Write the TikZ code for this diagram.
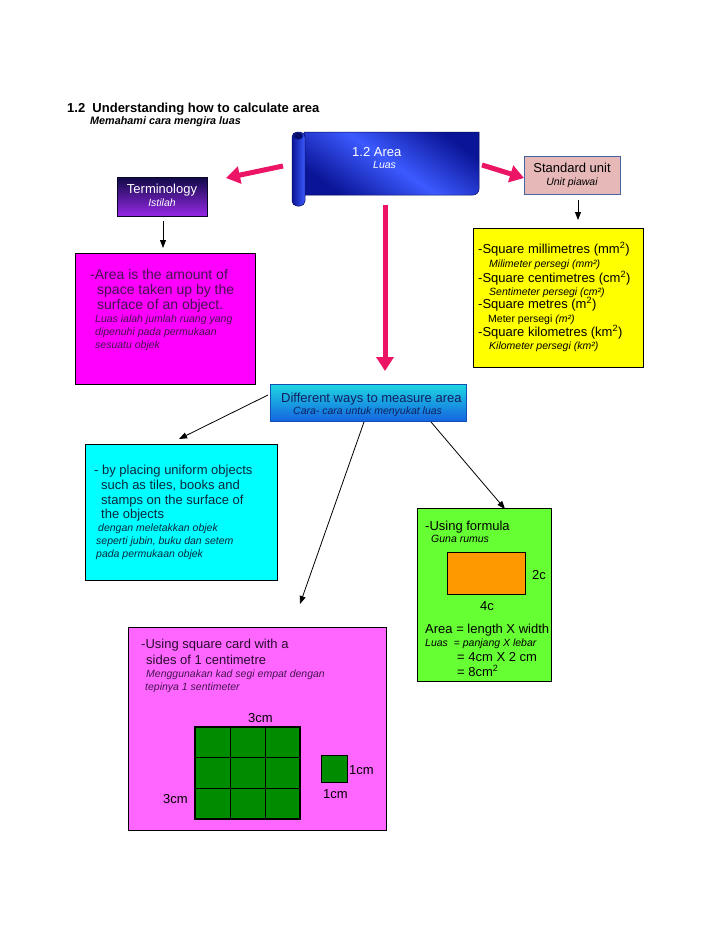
\documentclass[tikz,border=0pt]{standalone}
\usepackage{fontspec}
\setmainfont{Liberation Sans}
\usetikzlibrary{arrows.meta,shadings}
\definecolor{pinkarrow}{RGB}{236,20,100}
\definecolor{magbox}{RGB}{255,0,255}
\definecolor{violetbox}{RGB}{255,102,255}
\definecolor{cyanbox}{RGB}{0,255,255}
\definecolor{greenbox}{RGB}{102,255,51}
\definecolor{gridgreen}{RGB}{0,140,0}
\definecolor{orangebox}{RGB}{255,153,0}
\definecolor{yellowbox}{RGB}{255,255,0}
\definecolor{stdfill}{RGB}{230,184,183}
\definecolor{stdborder}{RGB}{70,100,160}
\definecolor{navytext}{RGB}{16,32,96}
\definecolor{scrolldark}{RGB}{10,20,150}
\definecolor{scrolllight}{RGB}{60,90,255}
\definecolor{termtop}{RGB}{15,10,70}
\definecolor{termmid}{RGB}{40,30,200}
\definecolor{termbot}{RGB}{150,40,230}
\definecolor{difftop}{RGB}{30,215,225}
\definecolor{diffbot}{RGB}{20,100,225}
\definecolor{magtext}{RGB}{70,20,80}
\definecolor{cyantext}{RGB}{10,40,60}
\tikzset{
  box/.style={draw=black, line width=0.8pt, anchor=north west, inner sep=0pt},
  main/.style={anchor=base west, inner sep=0pt, font=\fontsize{13}{15}\selectfont},
  bigmain/.style={anchor=base west, inner sep=0pt, font=\fontsize{14}{16}\selectfont},
  ital/.style={anchor=base west, inner sep=0pt, font=\fontsize{10.5}{12}\selectfont\itshape},
  bigarrow/.style={pinkarrow, line width=5pt, -{Triangle[length=14pt,width=17pt]}},
  thinarrow/.style={black, line width=0.8pt, -{Triangle[length=8pt,width=6pt]}},
}
\begin{document}
\begin{tikzpicture}[x=1pt,y=-1pt]
\useasboundingbox (0,0) rectangle (728,943);
\fill[white] (0,0) rectangle (728,943);

% title
\node[anchor=base west, inner sep=0pt, font=\fontsize{13}{15}\selectfont\bfseries] (title) at (67,112) {1.2\ \ Understanding how to calculate area};
\node[anchor=base west, inner sep=0pt, font=\fontsize{10.8}{12}\selectfont\bfseries\itshape] (subtitle) at (90,124) {Memahami cara mengira luas};

% scroll
\shade[top color=scrolldark, bottom color=scrolldark, middle color=scrolllight, shading angle=-35, draw=scrolldark!60!black, line width=0.5pt]
  (304,132) -- (479,132) -- (479,189) arc[start angle=0, end angle=90, radius=6] -- (304,195) -- cycle;
\shade[left color=scrolldark, right color=scrolllight, draw=scrolldark!60!black, line width=0.5pt, rounded corners=5pt]
  (292,132) rectangle (305,206);
\fill[scrolldark!70!black] (298.5,136) ellipse (4.5pt and 3.5pt);
\node[inner sep=0pt] (scroll) at (386,163) {};
\node[anchor=base west, inner sep=0pt, text=white, font=\fontsize{13}{15}\selectfont] (areatxt) at (352,156) {1.2 Area};
\node[anchor=base west, inner sep=0pt, text=white, font=\fontsize{10.5}{12}\selectfont\itshape] (luastxt) at (373,168) {Luas};

% terminology
\shade[top color=termtop, middle color=termmid, bottom color=termbot, draw=termtop!60!black, line width=0.5pt] (117,177) rectangle (207,216);
\node[inner sep=0pt, minimum width=90pt, minimum height=39pt, anchor=north west] (term) at (117,177) {};
\node[anchor=base, inner sep=0pt, text=white, font=\fontsize{13}{15}\selectfont] at (162,193) {Terminology};
\node[anchor=base, inner sep=0pt, text=white, font=\fontsize{10.5}{12}\selectfont\itshape] at (162,206) {Istilah};

% standard unit
\node[box, draw=stdborder, fill=stdfill, minimum width=96pt, minimum height=38pt] (std) at (524,156) {};
\node[anchor=base, inner sep=0pt, font=\fontsize{13}{15}\selectfont] at (572,172) {Standard unit};
\node[anchor=base, inner sep=0pt, font=\fontsize{10.5}{12}\selectfont\itshape] at (572,185) {Unit piawai};

% pink arrows
\coordinate (pl1) at (283,166);
\coordinate (pl2) at (226,178);
\coordinate (pr1) at (482,165);
\coordinate (pr2) at (524,178);
\coordinate (pd1) at (385,205);
\coordinate (pd2) at (385,371);
\draw[bigarrow] (pl1) -- (pl2);
\draw[bigarrow] (pr1) -- (pr2);
\draw[bigarrow] (pd1) -- (pd2);

% thin arrows from term & std
\coordinate (ta1) at (163,221);
\coordinate (ta2) at (163,248);
\coordinate (sa1) at (578,200);
\coordinate (sa2) at (578,220);
\draw[thinarrow] (ta1) -- (ta2);
\draw[thinarrow] (sa1) -- (sa2);

% yellow units box
\node[box, fill=yellowbox, minimum width=170pt, minimum height=139pt] (units) at (473,228) {};
\node[main] at (478,253) {-Square millimetres (mm\textsuperscript{2})};
\node[ital] at (489,267) {Milimeter persegi (mm²)};
\node[main] at (478,282) {-Square centimetres (cm\textsuperscript{2})};
\node[ital] at (489,295) {Sentimeter persegi (cm²)};
\node[main] at (478,308) {-Square metres (m\textsuperscript{2})};
\node[anchor=base west, inner sep=0pt, font=\fontsize{10.5}{12}\selectfont] at (488,322) {Meter persegi \textit{(m²)}};
\node[main] at (478,336) {-Square kilometres (km\textsuperscript{2})};
\node[ital] at (489,349) {Kilometer persegi (km²)};

% magenta definition box
\node[box, fill=magbox, minimum width=180pt, minimum height=131pt] (defn) at (75,253) {};
\begin{scope}[every node/.append style={text=magtext}]
\node[bigmain] at (90,279) {-Area is the amount of};
\node[bigmain] at (97,294) {space taken up by the};
\node[bigmain] at (97,309) {surface of an object.};
\node[ital] at (95,322) {Luas ialah jumlah ruang yang};
\node[ital] at (95,335) {dipenuhi pada permukaan};
\node[ital] at (95,348) {sesuatu objek};
\end{scope}

% different ways box
\shade[top color=difftop, bottom color=diffbot, draw=diffbot!80!black, line width=0.5pt] (270,384) rectangle (466,421);
\node[inner sep=0pt, minimum width=196pt, minimum height=37pt, anchor=north west] (ways) at (270,384) {};
\node[main, text=navytext] at (281,402) {Different ways to measure area};
\node[ital, text=navytext] at (293,414) {Cara- cara untuk menyukat luas};

% cyan box
\node[box, fill=cyanbox, minimum width=192pt, minimum height=136pt] (objects) at (85,444) {};
\begin{scope}[every node/.append style={text=cyantext}]
\node[main] at (94,474) {- by placing uniform objects};
\node[main] at (101,489) {such as tiles, books and};
\node[main] at (101,504) {stamps on the surface of};
\node[main] at (101,518) {the objects};
\node[ital] at (98,531) {dengan meletakkan objek};
\node[ital] at (96,544) {seperti jubin, buku dan setem};
\node[ital] at (96,557) {pada permukaan objek};
\end{scope}

% green formula box
\node[box, fill=greenbox, minimum width=134pt, minimum height=173pt] (formula) at (417,508) {};
\node[main] at (425,530) {-Using formula};
\node[ital] at (431,542) {Guna rumus};
\node[box, fill=orangebox, minimum width=78pt, minimum height=42pt] (rect) at (447,552) {};
\node[main] at (532,579) {2c};
\node[main] at (480,610) {4c};
\node[main] at (425,633) {Area = length X width};
\node[anchor=base west, inner sep=0pt, font=\fontsize{10.5}{12}\selectfont] at (425,646) {\textit{Luas}\ \ = \textit{panjang X lebar}};
\node[main] at (457,661) {= 4cm X 2 cm};
\node[main] at (457,676) {= 8cm\textsuperscript{2}};

% pink card box
\node[box, fill=violetbox, minimum width=258pt, minimum height=203pt] (card) at (128,627) {};
\node[main, text=magtext!60!black] at (141,648) {-Using square card with a};
\node[main, text=magtext!60!black] at (146,664) {sides of 1 centimetre};
\node[ital, text=magtext] at (146,677) {Menggunakan kad segi empat dengan};
\node[ital, text=magtext] at (145,690) {tepinya 1 sentimeter};
\fill[gridgreen] (195,727) rectangle (300,819);
\foreach \i in {1,2} {
  \draw[black, line width=0.9pt] (195+35*\i,727) -- (195+35*\i,819);
  \draw[black, line width=0.9pt] (195,727+30.67*\i) -- (300,727+30.67*\i);
}
\draw[black, line width=2.5pt] (195,727) rectangle (300,819);
\node[box, fill=gridgreen, line width=0.6pt, minimum width=26pt, minimum height=27pt] (unitsq) at (321,755) {};
\node[main] at (248,722) {3cm};
\node[main] at (163,803) {3cm};
\node[main] at (349,774) {1cm};
\node[main] at (323,798) {1cm};

% thin arrows from ways
\coordinate (w1) at (268,395);
\coordinate (w1e) at (179,439);
\coordinate (w2) at (364,422);
\coordinate (w2e) at (300,604);
\coordinate (w3) at (431,422);
\coordinate (w3e) at (505,509);
\draw[thinarrow] (w1) -- (w1e);
\draw[thinarrow] (w2) -- (w2e);
\draw[thinarrow] (w3) -- (w3e);
\end{tikzpicture}
\end{document}
